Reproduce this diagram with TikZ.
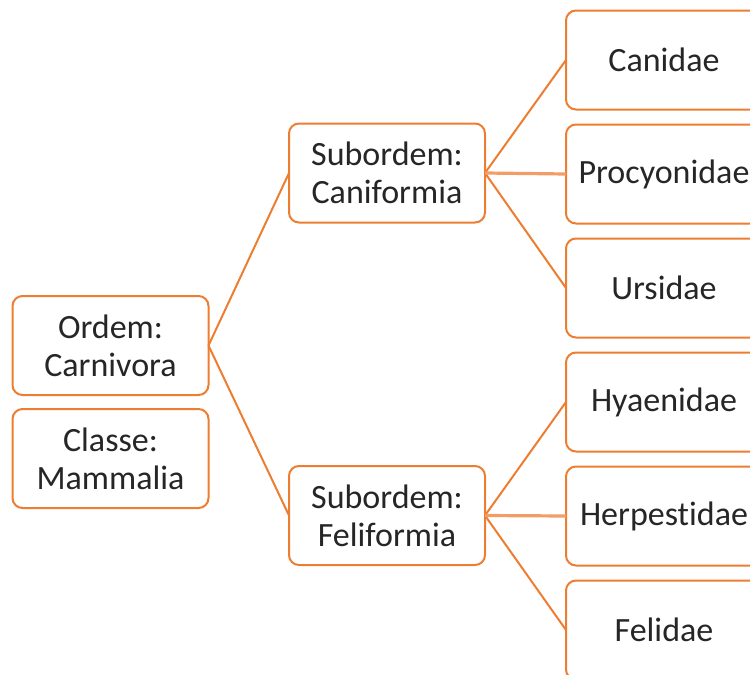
\documentclass[tikz,border=0pt]{standalone}
\usepackage{fontspec}
\setmainfont{Carlito}[Ligatures=NoCommon]
\usepackage {tikz}
\usetikzlibrary {positioning}
\definecolor{orng}{HTML}{ED7D31}
\definecolor{txt}{HTML}{262626}
\tikzset{box/.style={draw=orng,line width=1pt,rounded corners=5pt,fill=white,text=txt,
    minimum width=98pt,minimum height=49.5pt,inner sep=0pt,outer sep=0pt,align=center,
    font=\fontsize{17}{19}\selectfont},
  link/.style={draw=orng,line width=1pt},
  flat/.style={draw=orng!75,line width=1.6pt}}

\begin{document}
\begin{tikzpicture}[x=0.5pt,y=-0.5pt]
	\clip (0,0) rectangle (750,675);
	\path (110.5,345.5) node[box] (O) {Ordem:\\Carnivora}
	(387,173) node[box] (S1) {Subordem:\\Caniformia}
	(387,515.5) node[box] (S2) {Subordem:\\Feliformia}
	(664,60) node[box] (F1) {Canidae};
	\node[box,below=7pt of O] (C) {Classe:\\Mammalia};
	\node[box,below=7.5pt of F1] (F2) {Procyonidae};
	\node[box,below=7.5pt of F2] (F3) {Ursidae};
	\node[box,below=7.5pt of F3] (F4) {Hyaenidae};
	\node[box,below=7.5pt of F4] (F5) {Herpestidae};
	\node[box,below=7.5pt of F5] (F6) {Felidae};
	\draw[link] (O.east) -- (S1.west) (O.east) -- (S2.west);
	\draw[link] (S1.east) -- (F1.west) (S1.east) -- (F3.west)
	(S2.east) -- (F4.west) (S2.east) -- (F6.west);
	\draw[flat] (S1.east) -- (F2.west) (S2.east) -- (F5.west);
	\end{tikzpicture}
\end{document}
